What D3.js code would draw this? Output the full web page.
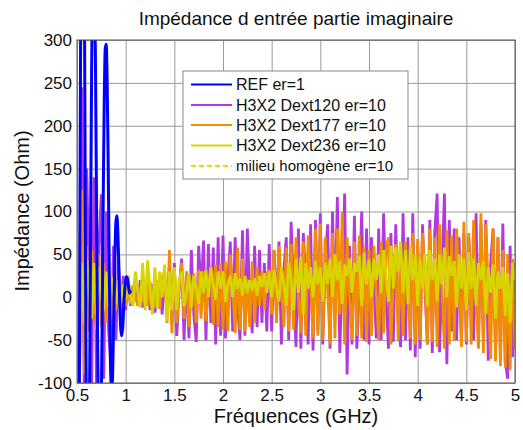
<!DOCTYPE html>
<html><head><meta charset="utf-8">
<script src="https://cdn.jsdelivr.net/npm/d3@7"></script>
<style>
body{margin:0;background:#fff}
svg{display:block}
text{font-family:"Liberation Sans",Arial,sans-serif;fill:#111}
</style>
</head><body>
<svg id="c" width="523" height="430"></svg>
<script>
// ---- data ----
const title = "Impédance d entrée partie imaginaire";
const xLabel = "Fréquences (GHz)";
const yLabel = "Impédance (Ohm)";
const xTicks = [0.5, 1, 1.5, 2, 2.5, 3, 3.5, 4, 4.5, 5];
const xTickLabels = ["0.5", "1", "1.5", "2", "2.5", "3", "3.5", "4", "4.5", "5"];
const yTicks = [-100, -50, 0, 50, 100, 150, 200, 250, 300];
const yTickLabels = ["-100", "-50", "0", "50", "100", "150", "200", "250", "300"];
const seriesNames = ["REF er=1", "H3X2 Dext120 er=10", "H3X2 Dext177 er=10", "H3X2 Dext236 er=10", "milieu homogène er=10"];

// REF er=1, sampled every 0.01 GHz from 0.5 GHz
const refStart = 0.5, refStep = 0.01;
const refValues = [-700, -500, -250, 100, 380, 520, 560, 480, 250, -20,
  -200, -260, -220, -100, 80, 260, 380, 420, 380, 270,
  120, -30, -140, -190, -180, -120, -10, 120, 230, 290,
  295, 250, 160, 50, -50, -100, -105, -70, -10, 50,
  88, 95, 75, 35, -10, -38, -45, -35, -12, 8,
  20, 24, 20, 12, 5, 8];

// H3X2 series, sampled every 0.025 GHz from 0.5 GHz
const hStart = 0.5, hStep = 0.025;
const dext120 = [
  60, -110, 245, -120, 150, 20, -110, 140, -100, 60, 120, -95, 100, -40, -80, 60, -50, 45, -30, 25,
  -15, 25, -10, 5, 22, -8, 20, -12, 0, 18, -15, 15, -18, 8, 20, -20, 25, -18, 35, -30,
  40, -45, 10, 45, -50, 30, -48, 55, -20, -52, 60, 5, 66, -50, 62, -30, 58, -55, 70, -45,
  72, -48, 20, 65, -40, 70, -10, -50, 78, -45, 80, 0, -42, 60, -35, 55, -30, 40, -40, 62,
  -40, 55, -20, 65, -55, 30, 70, -50, 88, 10, -58, 80, -60, 75, 20, -55, 85, -62, 90, -40,
  98, -55, 40, 85, -60, 100, -20, 117, -65, 30, 121, -90, 60, -55, 95, -60, 10, 100, -50, 80,
  -55, 70, 20, -48, 80, -50, 98, 0, -60, 75, -52, 85, -30, -58, 98, -50, 70, -62, 98, -70,
  60, -60, 85, 10, -55, 90, -65, 75, 121, -64, 30, 121, -78, 90, -40, 80, -50, 70, -48, 75,
  -55, 70, 10, -50, 98, -55, 85, -48, 90, -74, 40, 80, -65, 70, -68, 86, -75, -95, 60, -70, 40];
const dext177 = [
  40, -100, 125, -90, 60, -40, 55, 0, -38, 50, -35, 40, -30, 30, -25, 20, -15, 15, -12, 12,
  -10, 12, -8, 14, 0, -10, 12, -6, 15, -10, 18, 2, -12, 20, -14, 22, 30, -30, 55, -42,
  35, -30, 10, 40, -25, 30, -35, 5, 28, -30, 32, -25, 30, -28, 15, 35, -32, 38, -35, 40,
  -38, 42, -40, 50, 10, -42, 58, -38, 45, -40, 20, -35, 42, -30, 35, -10, 30, -15, 28, 32,
  -20, 55, -30, 60, 15, -35, 58, -40, 62, -38, 70, 0, -42, 65, -45, 72, 20, -48, 80, -45,
  86, -50, 70, 10, -55, 75, -48, 80, -20, 99, -55, 70, 0, -50, 65, -45, 72, -48, 60, -52,
  55, -45, 60, 5, -50, 65, -42, 55, 70, -55, 20, 62, -50, 58, -45, 65, 10, -48, 75, -55,
  68, -50, 75, 20, -55, 80, -52, 70, -58, 85, 10, -60, 78, -55, 72, -50, 80, 15, -58, 88,
  -52, 75, -55, 90, 0, -60, 98, -65, 85, 10, -72, 80, -75, 70, -80, 55, -82, 50, -85, 45, -60];
const dext236 = [
  80, -75, 40, -30, 45, 5, -25, 40, -20, 35, 0, -15, 30, -12, 25, 5, -8, 20, -5, 15,
  -3, 25, 0, -10, 30, 5, -12, 40, -15, 43, 10, -20, 35, -12, 30, 0, 38, -28, 30, -15,
  35, -15, 20, 30, -10, 5, 28, -12, 25, 10, -8, 30, 5, 32, 0, 35, 15, -3, 30, 10,
  30, -5, 15, 25, 0, 28, 10, 22, 2, 25, 5, 20, 8, 22, 2, 25, 12, 28, 5, 30,
  0, 32, 10, -5, 35, 15, -10, 40, 20, -15, 45, 5, 47, -20, 40, 10, 35, 0, 42, 15,
  35, -5, 40, 15, 45, 0, 50, 20, 42, -8, 38, 25, 45, 5, 40, 30, 48, -10, 52, 15,
  44, 0, 45, 20, 50, 5, 55, 25, -5, 60, 10, 58, 30, 65, 5, 55, -8, 60, 20, 50,
  -10, 45, 10, 50, -10, 55, 20, 45, -5, 50, 15, 58, 0, 48, 25, 42, -12, 50, 10, 45,
  -15, 52, 10, 45, -10, 40, 20, 42, -20, 35, 5, 38, -25, 30, 10, 35, -22, 28, -30, 40, 20];
// milieu homogène er=10
const homFreq = [0.5, 1, 1.5, 2, 2.5, 3, 3.5, 4, 4.5, 5];
const homValues = [10, 8, 8, 8, 10, 12, 15, 15, 15, 12];

const colors = ["#0000ff", "#b03ae0", "#f28c00", "#d8d400", "#e0dc00"];

// ---- layout ----
const svg = d3.select("#c");
const L = 77, R = 515, T = 40, B = 383;
const x = d3.scaleLinear().domain([0.5, 5]).range([L, R]);
const y = d3.scaleLinear().domain([-100, 300]).range([B, T]);

svg.append("defs").append("clipPath").attr("id", "clip")
  .append("rect").attr("x", L).attr("y", T).attr("width", R - L).attr("height", B - T);

// grid
const grid = svg.append("g");
grid.append("g").attr("transform", `translate(0,${B})`)
  .call(d3.axisBottom(x).tickValues(xTicks).tickSize(-(B - T)).tickFormat(""))
  .call(g => g.select(".domain").remove())
  .call(g => g.selectAll("line").attr("stroke", "#9a9a9a").attr("stroke-width", 1));
grid.append("g").attr("transform", `translate(${L},0)`)
  .call(d3.axisLeft(y).tickValues(yTicks).tickSize(-(R - L)).tickFormat(""))
  .call(g => g.select(".domain").remove())
  .call(g => g.selectAll("line").attr("stroke", "#9a9a9a").attr("stroke-width", 1));

// tick labels via axes
svg.append("g").attr("transform", `translate(0,${B})`)
  .call(d3.axisBottom(x).tickValues(xTicks).tickSize(0).tickPadding(6)
    .tickFormat((d, i) => xTickLabels[i]))
  .call(g => g.select(".domain").remove())
  .call(g => g.selectAll("text").attr("font-size", 17).attr("fill", "#111")
    .attr("font-family", '"Liberation Sans",Arial,sans-serif'));
svg.append("g").attr("transform", `translate(${L},0)`)
  .call(d3.axisLeft(y).tickValues(yTicks).tickSize(0).tickPadding(5)
    .tickFormat((d, i) => yTickLabels[i]))
  .call(g => g.select(".domain").remove())
  .call(g => g.selectAll("text").attr("font-size", 17).attr("fill", "#111")
    .attr("font-family", '"Liberation Sans",Arial,sans-serif'));

// lines
const plot = svg.append("g").attr("clip-path", "url(#clip)");
const line = d3.line().x(d => x(d[0])).y(d => y(d[1]));
const toPts = (vals, start, step) => vals.map((v, i) => [start + i * step, v]);

plot.append("path").datum(homFreq.map((f, i) => [f, homValues[i]]))
  .attr("d", line).attr("fill", "none").attr("stroke", colors[4])
  .attr("stroke-width", 2).attr("stroke-dasharray", "5,3");
[[dext120, colors[1]], [dext177, colors[2]], [dext236, colors[3]]].forEach(([vals, c]) => {
  plot.append("path").datum(toPts(vals, hStart, hStep))
    .attr("d", line).attr("fill", "none").attr("stroke", c)
    .attr("stroke-width", 2.8).attr("stroke-linejoin", "miter").attr("stroke-miterlimit", 2);
});
plot.append("path").datum(toPts(refValues, refStart, refStep))
  .attr("d", d3.line().curve(d3.curveMonotoneX).x(d => x(d[0])).y(d => y(d[1])))
  .attr("fill", "none").attr("stroke", colors[0]).attr("stroke-width", 3);

// axes box
svg.append("rect").attr("x", L).attr("y", T).attr("width", R - L).attr("height", B - T)
  .attr("fill", "none").attr("stroke", "#555").attr("stroke-width", 1);

// title & labels
svg.append("text").attr("x", 296).attr("y", 25).attr("text-anchor", "middle")
  .attr("font-size", 19).text(title);
svg.append("text").attr("x", 296).attr("y", 423).attr("text-anchor", "middle")
  .attr("font-size", 20).text(xLabel);
svg.append("text").attr("transform", "translate(29,211) rotate(-90)").attr("text-anchor", "middle")
  .attr("font-size", 20).text(yLabel);

// legend
const lg = svg.append("g");
lg.append("rect").attr("x", 183).attr("y", 71).attr("width", 225).attr("height", 108)
  .attr("fill", "#fff").attr("stroke", "#888").attr("stroke-width", 1);
const rowsY = [84.5, 105, 125, 145.5, 166];
seriesNames.forEach((n, i) => {
  lg.append("line").attr("x1", 191).attr("x2", 232).attr("y1", rowsY[i]).attr("y2", rowsY[i])
    .attr("stroke", colors[i]).attr("stroke-width", 2)
    .attr("stroke-dasharray", i === 4 ? "5,3" : null);
  lg.append("text").attr("x", 236).attr("y", rowsY[i]).attr("dy", "0.36em")
    .attr("font-size", i === 4 ? 15 : 16).text(n);
});
</script>
</body></html>
